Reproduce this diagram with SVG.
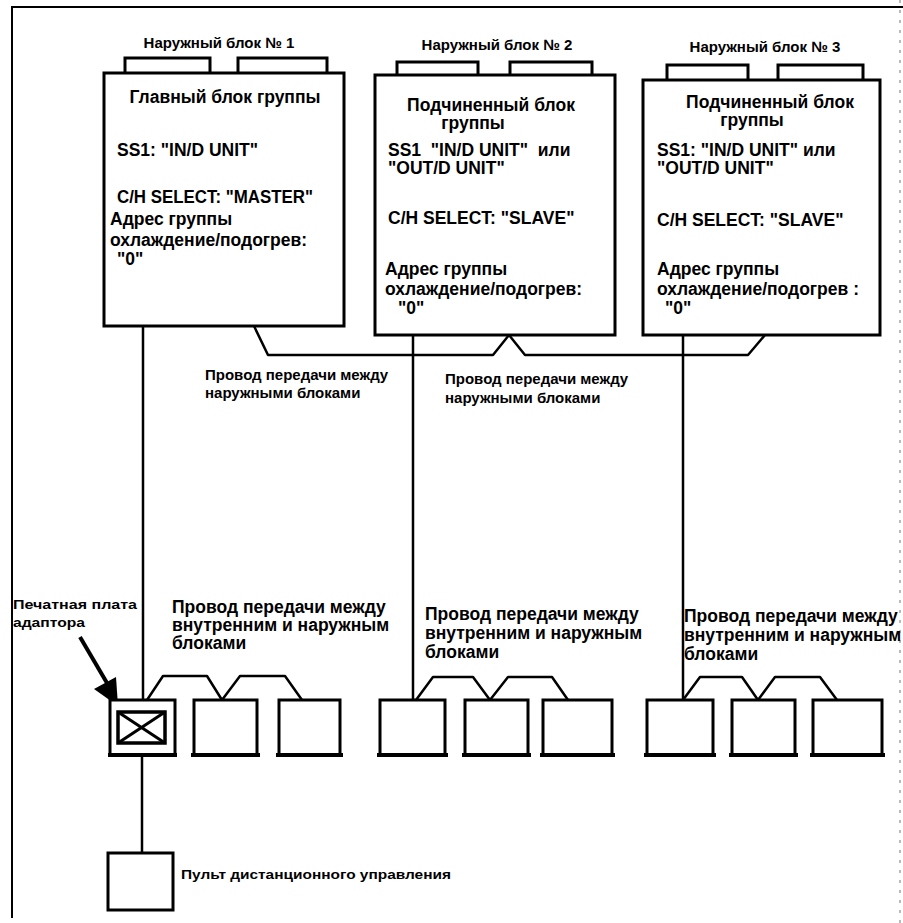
<svg xmlns="http://www.w3.org/2000/svg" width="903" height="923" viewBox="0 0 903 923">
<style>
text{font-family:"Liberation Sans",Arial,sans-serif;font-weight:bold;fill:#000}
.bt{font-size:17.5px}
.lb{font-size:15px}
.gl{font-size:17.5px}
.sm{font-size:13px}
.box{fill:#fff;stroke:#000;stroke-width:3}
.tab{fill:none;stroke:#000;stroke-width:3}
.w{fill:none;stroke:#000;stroke-width:2.5;stroke-linejoin:round}
.unit{fill:#fff;stroke:#000;stroke-width:3}
.foot{stroke:#000;stroke-width:4}
</style>
<rect width="903" height="923" fill="#fff"/>
<g id="frame">
<path d="M12,918 V7 H903" fill="none" stroke="#000" stroke-width="2"/>
<line x1="900" y1="0" x2="900" y2="923" stroke="#777" stroke-width="1" stroke-dasharray="3 7"/>
</g>

<g id="connectors">
<path class="w" d="M143,326 V700"/>
<path class="w" d="M413,335 V700"/>
<path class="w" d="M683,335 V700"/>
<path class="w" d="M254,326 L268,355 H493 L509,335 L525,355 H748 L765,335"/>
<path class="w" d="M147,700 L163,676 H207 L222,700 L240,676 H285 L302,700"/>
<path class="w" d="M416,700 L433,677 H473 L490,700 L508,677 H552 L568,700"/>
<path class="w" d="M683,700 L700,677 H742 L758,700 L775,677 H820 L837,700"/>
<path class="w" d="M142,755 V853"/>
<line x1="80" y1="637" x2="107" y2="683" stroke="#000" stroke-width="4"/>
<polygon points="94,689 118,706 116,677" fill="#000"/>
</g>

<g id="outdoor-1">
<text class="lb" x="219" y="48" text-anchor="middle">Наружный блок № 1</text>
<path class="tab" d="M125,73 V58 H210 V73 M238,73 V58 H327 V73"/>
<rect class="box" x="104" y="73" width="240" height="253"/>
<text class="bt" x="225" y="103" text-anchor="middle">Главный блок группы</text>
<text class="bt" x="117" y="156">SS1: "IN/D UNIT"</text>
<text class="bt" x="117" y="203" textLength="196" lengthAdjust="spacingAndGlyphs">C/H SELECT: "MASTER"</text>
<text class="bt" x="110" y="225">Адрес группы</text>
<text class="bt" x="110" y="246">охлаждение/подогрев:</text>
<text class="bt" x="117" y="265">"0"</text>
</g>

<g id="outdoor-2">
<text class="lb" x="497" y="50" text-anchor="middle">Наружный блок № 2</text>
<path class="tab" d="M397,75 V62 H478 V75 M510,75 V62 H592 V75"/>
<rect class="box" x="375" y="75" width="240" height="260"/>
<text class="bt" x="491" y="111" text-anchor="middle">Подчиненный блок</text>
<text class="bt" x="473" y="129" text-anchor="middle">группы</text>
<text class="bt" x="388" y="156" xml:space="preserve">SS1  "IN/D UNIT"  или</text>
<text class="bt" x="388" y="174">"OUT/D UNIT"</text>
<text class="bt" x="388" y="224">C/H SELECT: "SLAVE"</text>
<text class="bt" x="385" y="275">Адрес группы</text>
<text class="bt" x="385" y="295">охлаждение/подогрев:</text>
<text class="bt" x="398" y="314">"0"</text>
</g>

<g id="outdoor-3">
<text class="lb" x="765" y="52" text-anchor="middle">Наружный блок № 3</text>
<path class="tab" d="M667,80 V65 H748 V80 M778,80 V65 H863 V80"/>
<rect class="box" x="643" y="80" width="237" height="255"/>
<text class="bt" x="770" y="108" text-anchor="middle">Подчиненный блок</text>
<text class="bt" x="752" y="126" text-anchor="middle">группы</text>
<text class="bt" x="657" y="156">SS1: "IN/D UNIT" или</text>
<text class="bt" x="657" y="174">"OUT/D UNIT"</text>
<text class="bt" x="657" y="226">C/H SELECT: "SLAVE"</text>
<text class="bt" x="657" y="275">Адрес группы</text>
<text class="bt" x="657" y="295">охлаждение/подогрев :</text>
<text class="bt" x="665" y="314">"0"</text>
</g>

<g id="label-outdoor-wire-1">
<text class="lb" x="205" y="380">Провод передачи между</text>
<text class="lb" x="205" y="398">наружными блоками</text>
</g>
<g id="label-outdoor-wire-2">
<text class="lb" x="445" y="384">Провод передачи между</text>
<text class="lb" x="445" y="403">наружными блоками</text>
</g>

<g id="label-adapter">
<text class="sm" x="13" y="609" textLength="124" lengthAdjust="spacingAndGlyphs">Печатная плата</text>
<text class="sm" x="13" y="627" textLength="72" lengthAdjust="spacingAndGlyphs">адаптора</text>
</g>

<g id="label-indoor-wire-1">
<text class="gl" x="172" y="613">Провод передачи между</text>
<text class="gl" x="172" y="631">внутренним и наружным</text>
<text class="gl" x="172" y="649">блоками</text>
</g>
<g id="label-indoor-wire-2">
<text class="gl" x="425" y="620">Провод передачи между</text>
<text class="gl" x="425" y="639">внутренним и наружным</text>
<text class="gl" x="425" y="658">блоками</text>
</g>
<g id="label-indoor-wire-3">
<text class="gl" x="684" y="622">Провод передачи между</text>
<text class="gl" x="684" y="641">внутренним и наружным</text>
<text class="gl" x="684" y="660">блоками</text>
</g>

<g id="adapter">
<rect class="unit" x="110" y="700" width="65" height="55"/>
<rect x="118" y="712" width="47" height="31" fill="none" stroke="#000" stroke-width="3.5"/>
<path d="M118,712 L165,743 M165,712 L118,743" stroke="#000" stroke-width="3"/>
<line class="foot" x1="108" y1="755" x2="177" y2="755"/>
</g>
<g id="indoor-1-2"><rect class="unit" x="194" y="700" width="63" height="55"/><line class="foot" x1="191" y1="755" x2="260" y2="755"/></g>
<g id="indoor-1-3"><rect class="unit" x="279" y="700" width="61" height="55"/><line class="foot" x1="276" y1="755" x2="343" y2="755"/></g>
<g id="indoor-2-1"><rect class="unit" x="380" y="700" width="65" height="55"/><line class="foot" x1="377" y1="755" x2="448" y2="755"/></g>
<g id="indoor-2-2"><rect class="unit" x="465" y="700" width="63" height="55"/><line class="foot" x1="462" y1="755" x2="531" y2="755"/></g>
<g id="indoor-2-3"><rect class="unit" x="543" y="700" width="69" height="55"/><line class="foot" x1="540" y1="755" x2="615" y2="755"/></g>
<g id="indoor-3-1"><rect class="unit" x="647" y="700" width="66" height="55"/><line class="foot" x1="644" y1="755" x2="716" y2="755"/></g>
<g id="indoor-3-2"><rect class="unit" x="732" y="700" width="63" height="55"/><line class="foot" x1="729" y1="755" x2="798" y2="755"/></g>
<g id="indoor-3-3"><rect class="unit" x="813" y="700" width="69" height="55"/><line class="foot" x1="810" y1="755" x2="885" y2="755"/></g>

<g id="remote">
<rect class="unit" x="108" y="853" width="65" height="57"/>
<text class="sm" x="181" y="879" textLength="270" lengthAdjust="spacingAndGlyphs">Пульт дистанционного управления</text>
</g>
</svg>
